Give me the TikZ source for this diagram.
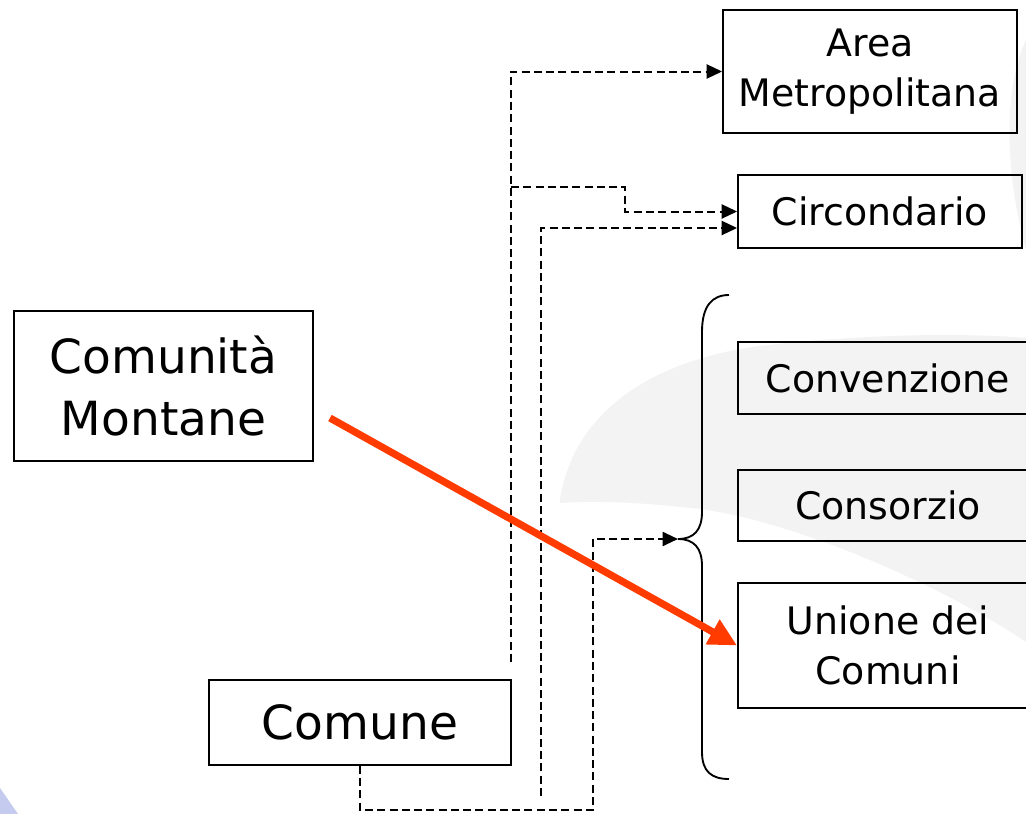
\documentclass[tikz,border=0pt]{standalone}
\usepackage{fontspec}
\setmainfont{DejaVu Sans}
\usetikzlibrary{arrows.meta}
\definecolor{swoosh}{RGB}{243,243,243}
\definecolor{cornerblue}{RGB}{196,203,238}
\definecolor{redarrow}{RGB}{255,59,0}
\tikzset{
  box/.style={draw=black, line width=1.4pt, inner sep=0pt, align=center},
  smalltext/.style={font=\fontsize{28.4pt}{37.5pt}\selectfont},
  bigtext/.style={font=\fontsize{35.3pt}{46.5pt}\selectfont},
  dashline/.style={draw=black, line width=1.5pt, dash pattern=on 6pt off 3.2pt,
    -{Triangle[length=11.5pt,width=10.5pt]}},
  bracestyle/.style={draw=black, line width=1.4pt},
  redline/.style={draw=redarrow, line width=5.4pt, -{Triangle[length=21pt,width=20pt]}}
}
\begin{document}
\begin{tikzpicture}[x=0.75pt, y=-0.75pt]
\useasboundingbox (0,0) rectangle (1026,814);
\clip (0,0) rectangle (1026,814);
\fill[white] (0,0) rectangle (1026,814);
% background decorations
\fill[swoosh] (560,500) .. controls (572,420) and (640,362) .. (760,346)
  .. controls (880,332) and (980,334) .. (1026,338) -- (1026,642)
  .. controls (950,590) and (800,522) .. (700,509)
  .. controls (630,501) and (590,501) .. (560,503) -- cycle;
\fill[swoosh] (1026,40) .. controls (1012,70) and (1008,110) .. (1010,150)
  .. controls (1012,190) and (1018,220) .. (1026,250) -- cycle;
\fill[cornerblue] (0,788) -- (18,814) -- (0,814) -- cycle;

% boxes
\node[box, smalltext, minimum width=220.5pt, minimum height=92.25pt] (am) at (870,71.5) {Area\\Metropolitana};
\node[box, smalltext, minimum width=213pt, minimum height=54.75pt] (circ) at (880,211.5) {Circondario};
\node[box, bigtext, minimum width=224.25pt, minimum height=112.5pt] (cm) at (163.5,386) {Comunità\\Montane};
\node[box, smalltext, minimum width=225pt, minimum height=54pt] (conv) at (888,378) {Convenzione};
\node[box, smalltext, minimum width=225pt, minimum height=53.25pt] (cons) at (888,505.5) {Consorzio};
\node[box, smalltext, minimum width=225pt, minimum height=93.75pt] (unione) at (888,645.5) {Unione dei\\Comuni};
\node[box, bigtext, minimum width=226.5pt, minimum height=63.75pt] (comune) at (360,722.5) {Comune};

% brace
\coordinate (tip) at (678,539);
\draw[bracestyle] (729,295) .. controls (712,295) and (702,306) .. (702,332) -- (702,512)
  .. controls (702,530) and (694,539) .. (tip)
  .. controls (694,539) and (702,548) .. (702,566) -- (702,752)
  .. controls (702,772) and (712,779) .. (729,779);

% dashed connectors
\coordinate (s2) at (541,796);
\coordinate (s3) at (511,662);
\coordinate (j4) at (511,187);
\draw[dashline] (comune.south) |- (593,810) |- (tip);
\draw[dashline] (s2) |- (circ.west |- 0,228);
\draw[dashline] (s3) |- (am.west);
\draw[dashline] (j4) -| (625,211.5) -- (circ.west);

% red arrow
\coordinate (r0) at (330,418);
\draw[redline] (r0) -- (unione.west);
\end{tikzpicture}
\end{document}
